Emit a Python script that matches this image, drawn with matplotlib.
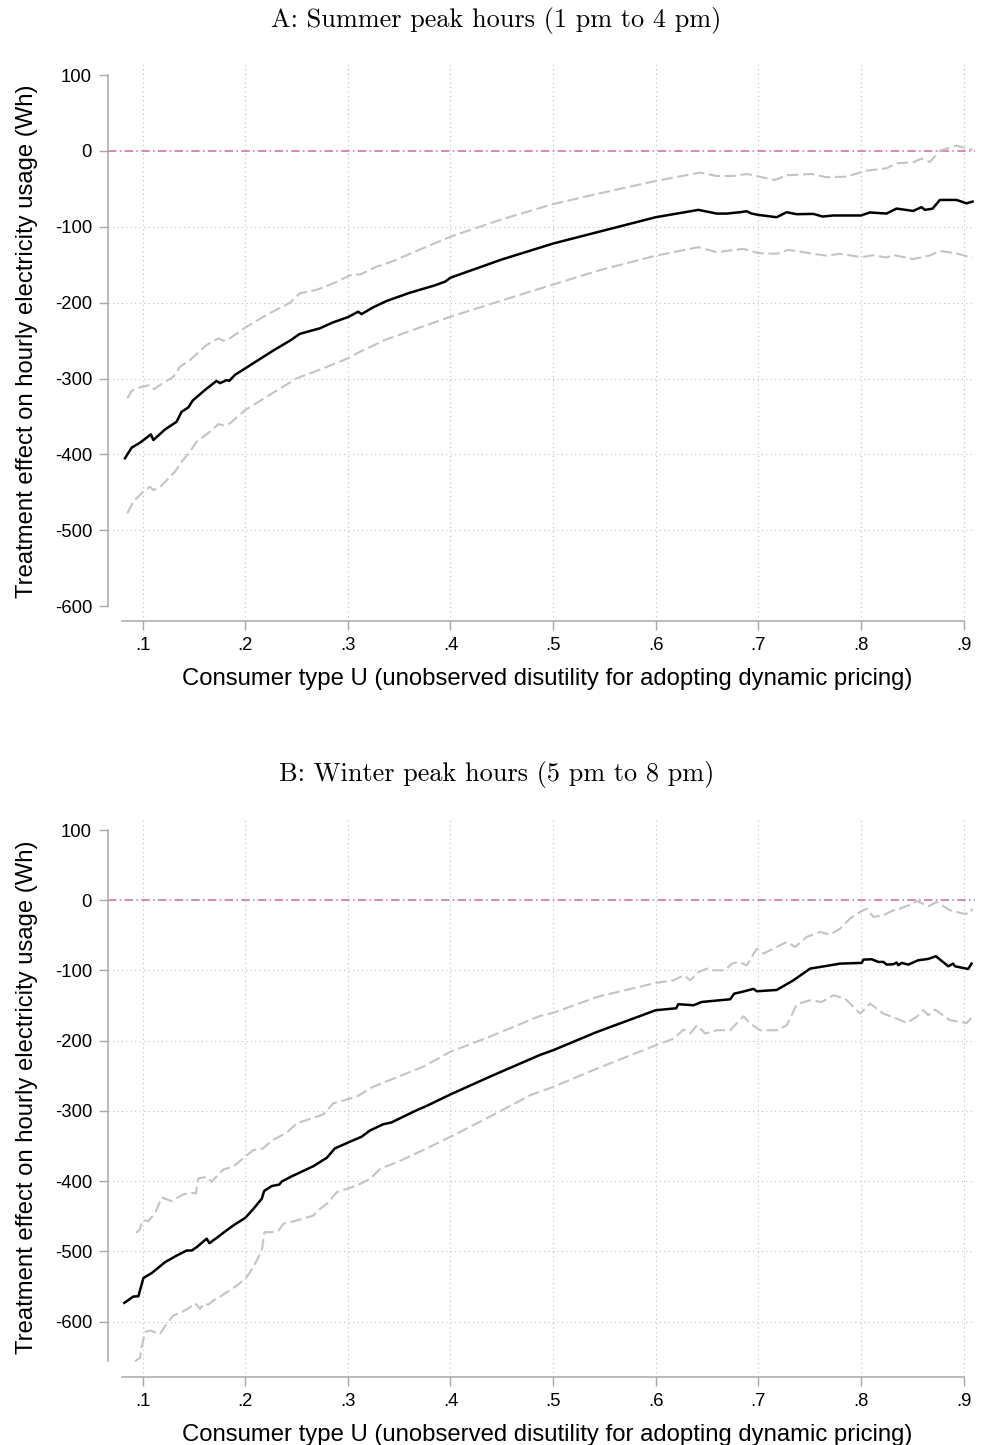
import matplotlib
matplotlib.use("Agg")
import matplotlib.pyplot as plt

plt.rcParams["font.family"] = ["Liberation Sans", "DejaVu Sans"]
plt.rcParams["axes.unicode_minus"] = False

# Panel A: summer peak hours
a_est_x = [0.0828, 0.085, 0.0893, 0.0974, 0.108, 0.1104, 0.1218, 0.133, 0.138, 0.1445, 0.1487,
           0.1607, 0.172, 0.1753, 0.1818, 0.1844, 0.19, 0.2, 0.211, 0.2273, 0.2435, 0.2532,
           0.2727, 0.2857, 0.3, 0.31, 0.3133, 0.3247, 0.3377, 0.36, 0.385, 0.395, 0.4, 0.45,
           0.5, 0.546, 0.6, 0.6416, 0.6594, 0.6692, 0.682, 0.6886, 0.6935, 0.7, 0.7179,
           0.7276, 0.7373, 0.7536, 0.7627, 0.773, 0.8, 0.8088, 0.825, 0.8347, 0.851, 0.8591,
           0.8623, 0.8698, 0.877, 0.8932, 0.903, 0.9088]
a_est_y = [-405, -400, -391, -384.5, -373.5, -381, -367, -357, -343.6, -338, -329,
           -315, -303, -306, -302, -303, -295, -286.5, -277, -263, -250, -241,
           -233.7, -225.8, -219, -211.8, -215, -206, -197.7, -187, -177, -172, -167, -143,
           -122, -106, -87.3, -77.6, -82.5, -82.5, -80.7, -79.4, -82.5, -84.2, -87.3,
           -80.7, -83.3, -82.9, -86.4, -85, -85, -81, -82.5, -75.9, -79, -74,
           -77.6, -76, -64.5, -64.5, -69, -66.7]

a_hi_x = [0.085, 0.0893, 0.0974, 0.1071, 0.111, 0.1169, 0.13, 0.1364, 0.1461, 0.1623, 0.1737,
          0.1786, 0.185, 0.2013, 0.2208, 0.2435, 0.2532, 0.2695, 0.2857, 0.3052, 0.3117,
          0.3279, 0.3409, 0.37, 0.4, 0.45, 0.5, 0.5458, 0.6, 0.6432, 0.6594, 0.6756, 0.6886,
          0.7162, 0.7276, 0.7519, 0.7666, 0.786, 0.8055, 0.825, 0.8347, 0.851, 0.8591,
          0.8672, 0.877, 0.8932, 0.9088]
a_hi_y = [-326, -316, -311.5, -308.5, -314, -308.5, -297.5, -284.3, -275.5, -255.7, -247,
          -250, -247, -231.6, -216, -200, -187.6, -183, -174.5, -162, -163,
          -152.5, -146.8, -130, -113, -90, -70, -55.7, -39.5, -28.5, -32.9, -32.9, -30.3,
          -38.2, -32, -30.3, -34.6, -33.8, -25.9, -22.8, -16.2, -14.9, -10,
          -14.5, 0.4, 7, 1.3]

a_lo_x = [0.085, 0.0909, 0.099, 0.1071, 0.1104, 0.1169, 0.1315, 0.138, 0.1461, 0.1526, 0.1656,
          0.1737, 0.1786, 0.185, 0.2, 0.2208, 0.25, 0.276, 0.3, 0.3117, 0.3377, 0.4, 0.45,
          0.5, 0.5458, 0.6, 0.6416, 0.6594, 0.6854, 0.7, 0.7179, 0.7292, 0.7536, 0.7666,
          0.7795, 0.8006, 0.812, 0.825, 0.8315, 0.851, 0.8672, 0.877, 0.8948, 0.9088]
a_lo_y = [-477.6, -462, -451, -442.5, -447, -443, -422.7, -409.6, -396.4, -383, -370,
          -360, -361.5, -359, -341.4, -324, -299.7, -286.5, -273.3, -264.6, -248.2, -218.4, -197,
          -176, -157, -138, -126.8, -133.3, -129, -134.6, -135.5, -130.3, -135.5, -138,
          -135.5, -140, -137.3, -140.4, -137, -142.5, -137.7, -131.6, -135.5, -140.8]

# Panel B: winter peak hours
b_est_x = [0.0821, 0.0909, 0.0958, 0.1007, 0.1088, 0.1218, 0.1332, 0.1429, 0.1478, 0.1527,
           0.1624, 0.165, 0.1722, 0.1803, 0.1885, 0.2, 0.208, 0.2161, 0.2184, 0.2258, 0.233,
           0.2356, 0.2437, 0.2665, 0.2795, 0.2873, 0.3019, 0.3133, 0.3214, 0.3344, 0.3425,
           0.3539, 0.3653, 0.3766, 0.4, 0.4383, 0.487, 0.5, 0.5428, 0.6, 0.62, 0.622, 0.6369,
           0.645, 0.6726, 0.6765, 0.684, 0.6953, 0.6986, 0.718, 0.7343, 0.7505, 0.7602,
           0.7797, 0.8008, 0.8024, 0.8105, 0.817, 0.8219, 0.8251, 0.8316, 0.8348, 0.8365,
           0.8397, 0.8462, 0.8559, 0.8657, 0.8731, 0.8852, 0.89, 0.8916, 0.9046, 0.9078]
b_est_y = [-573.4, -564.4, -564, -538, -531, -515.4, -506, -498.8, -498.8, -494,
           -482, -488.4, -480.8, -471.7, -463, -452.3, -439.4, -425, -414, -407, -405,
           -400.5, -394.3, -378.6, -366.7, -353.4, -344, -336.8, -328, -319, -316.4,
           -308.3, -300.2, -293, -276.5, -251.3, -220.4, -213.6, -187.5, -156.6, -153.8, -148, -149.5,
           -144.8, -141, -133, -130.5, -126.2, -129.6, -127.7, -113.9, -97.3, -95,
           -90.2, -89.2, -84.5, -84, -87.8, -87.8, -91.6, -91.1, -88.7, -92.5,
           -89.2, -91.6, -85.4, -83.5, -79.7, -94, -90.2, -94, -97.8, -90.2]

b_hi_x = [0.0935, 0.0968, 0.1, 0.1055, 0.112, 0.1185, 0.1282, 0.1396, 0.1477, 0.1519, 0.1542,
          0.1623, 0.1672, 0.1786, 0.1883, 0.1997, 0.2078, 0.2175, 0.2256, 0.2403, 0.25,
          0.2695, 0.276, 0.2857, 0.3084, 0.3247, 0.349, 0.3734, 0.4, 0.4383, 0.487, 0.5,
          0.5428, 0.6, 0.6175, 0.6272, 0.6337, 0.6418, 0.65, 0.6564, 0.6677, 0.6742, 0.6807,
          0.6888, 0.6986, 0.7051, 0.718, 0.7278, 0.7359, 0.7472, 0.7602, 0.77, 0.7797,
          0.7894, 0.7992, 0.8057, 0.8121, 0.8219, 0.8316, 0.838, 0.851, 0.8543, 0.8657,
          0.8738, 0.8868, 0.8997, 0.9062, 0.9088]
b_hi_y = [-473.6, -469.8, -455.6, -457, -446, -423.3, -428.5, -419, -416.6, -417.6, -396.2,
          -393.8, -401, -383.4, -379.6, -365.3, -355.8, -353.4, -342.5, -331.1, -317.8,
          -308.3, -305, -289.3, -279.8, -265.6, -251.3, -237, -215.7, -194.3, -164.8, -160.4,
          -137.6, -117.7, -113.9, -106.8, -113.9, -102, -97.3, -99.7, -99.7, -90.2, -87.8,
          -92.5, -68.8, -75.9, -66.4, -59.3, -66.4, -52.2, -45.1, -48.9, -40.3,
          -26.1, -16.6, -11.9, -23.7, -21.4, -14.2, -11.9, -4.7, -0.9, -8.5,
          -2.4, -14.2, -19, -19, -11.9]

b_lo_x = [0.0925, 0.0974, 0.099, 0.1023, 0.1072, 0.1169, 0.1234, 0.1299, 0.138, 0.1462,
          0.1511, 0.1559, 0.1592, 0.1641, 0.1689, 0.1787, 0.1917, 0.2, 0.2047, 0.2112,
          0.2161, 0.2187, 0.2259, 0.2324, 0.2372, 0.2502, 0.2665, 0.2698, 0.2795, 0.2893,
          0.299, 0.3088, 0.3218, 0.3315, 0.349, 0.3734, 0.4, 0.4383, 0.4779, 0.5, 0.5428,
          0.6, 0.6175, 0.6272, 0.6337, 0.6402, 0.6483, 0.6596, 0.6726, 0.6856, 0.6921,
          0.7018, 0.718, 0.7278, 0.7375, 0.7505, 0.7618, 0.7732, 0.7846, 0.7992, 0.8089,
          0.8219, 0.8348, 0.8446, 0.8543, 0.8608, 0.8657, 0.8722, 0.8868, 0.903, 0.9088]
b_lo_y = [-656.5, -651.8, -636.6, -615.2, -612.8, -617.6, -603.3, -591.4, -586.7, -579.6,
          -573.9, -582, -574.8, -575.8, -570, -561.5, -548.7, -539.2, -529.7, -513,
          -498.8, -472.7, -472.7, -470.3, -460.8, -456, -449, -443.2, -432.3, -415.7,
          -411, -406.2, -396.7, -382.4, -372.4, -355.8, -336.8, -308.3, -277.6, -265.8, -239.7,
          -206.5, -197, -184.1, -189.8, -178, -189.8, -185.1, -185.1, -165.2, -175.6,
          -185.1, -185.1, -178, -148, -142.4, -144.8, -135.3, -140, -161.4, -147.1,
          -161.4, -168.5, -174.7, -166.1, -156.6, -163.7, -155.7, -170.9, -174.7, -166.1]

x_ticks = [0.1, 0.2, 0.3, 0.4, 0.5, 0.6, 0.7, 0.8, 0.9]
x_labels = [".1", ".2", ".3", ".4", ".5", ".6", ".7", ".8", ".9"]
y_ticks = [100, 0, -100, -200, -300, -400, -500, -600]

titles = ["A: Summer peak hours (1 pm to 4 pm)", "B: Winter peak hours (5 pm to 8 pm)"]
xlabel = "Consumer type U (unobserved disutility for adopting dynamic pricing)"
ylabel = "Treatment effect on hourly electricity usage (Wh)"

W, H = 982, 1445
fig = plt.figure(figsize=(W / 100, H / 100), dpi=100)

AX_GRAY = "#a8a8a8"
GRID_GRAY = "#c0c0c0"
CI_GRAY = "#c4c4c4"
ZERO_PINK = "#cc6a9c"


def make_panel(rect, ylim, spine_low, hgrid, est, hi, lo, title, title_y):
    ax = fig.add_axes(rect)
    ax.set_xlim(0.0662, 0.9112)
    ax.set_ylim(*ylim)

    # dotted grid, Stata-like (skips lines at the axis extremes)
    for xv in x_ticks:
        ax.axvline(xv, color=GRID_GRAY, lw=0.8, ls=(0, (1, 3)), zorder=1)
    for yv in hgrid:
        ax.axhline(yv, color=GRID_GRAY, lw=0.8, ls=(0, (1, 3)), zorder=1)
    ax.axhline(0, color=ZERO_PINK, lw=1.1, ls=(0, (5.5, 2.2, 1, 2.2)), zorder=2)

    ax.plot(hi[0], hi[1], color=CI_GRAY, lw=1.5, ls=(0, (5.5, 2.2)), zorder=3)
    ax.plot(lo[0], lo[1], color=CI_GRAY, lw=1.5, ls=(0, (5.5, 2.2)), zorder=3)
    ax.plot(est[0], est[1], color="black", lw=1.8, zorder=4)

    for side in ["top", "right"]:
        ax.spines[side].set_visible(False)
    for side in ["left", "bottom"]:
        ax.spines[side].set_color(AX_GRAY)
        ax.spines[side].set_linewidth(1.1)
    ax.spines["left"].set_bounds(spine_low, 100)
    ax.spines["bottom"].set_bounds(0.08, 0.9)

    ax.set_xticks(x_ticks)
    ax.set_xticklabels(x_labels)
    ax.set_yticks(y_ticks)
    ax.tick_params(axis="both", colors=AX_GRAY, labelcolor="black", length=6.5,
                   width=1.0, labelsize=13.3, pad=5)
    ax.set_xlabel(xlabel, fontsize=17.2, labelpad=10, x=0.507)
    ax.set_ylabel(ylabel, fontsize=17.2, labelpad=12)

    fig.text(0.5056, title_y, title, ha="center", va="center",
             fontsize=18.9, family=["cmr10", "DejaVu Serif"])
    return ax


make_panel([108 / W, 1 - 621 / H, 867 / W, 559 / H], (-619.5, 117.3), -600,
           [-100, -200, -300, -400, -500],
           (a_est_x, a_est_y), (a_hi_x, a_hi_y), (a_lo_x, a_lo_y),
           titles[0], 1 - 20 / H)
make_panel([108 / W, 1 - 1377 / H, 867 / W, 559 / H], (-679, 117.2), -656,
           [-100, -200, -300, -400, -500, -600],
           (b_est_x, b_est_y), (b_hi_x, b_hi_y), (b_lo_x, b_lo_y),
           titles[1], 1 - 775 / H)

fig.savefig("out.png", dpi=100)
